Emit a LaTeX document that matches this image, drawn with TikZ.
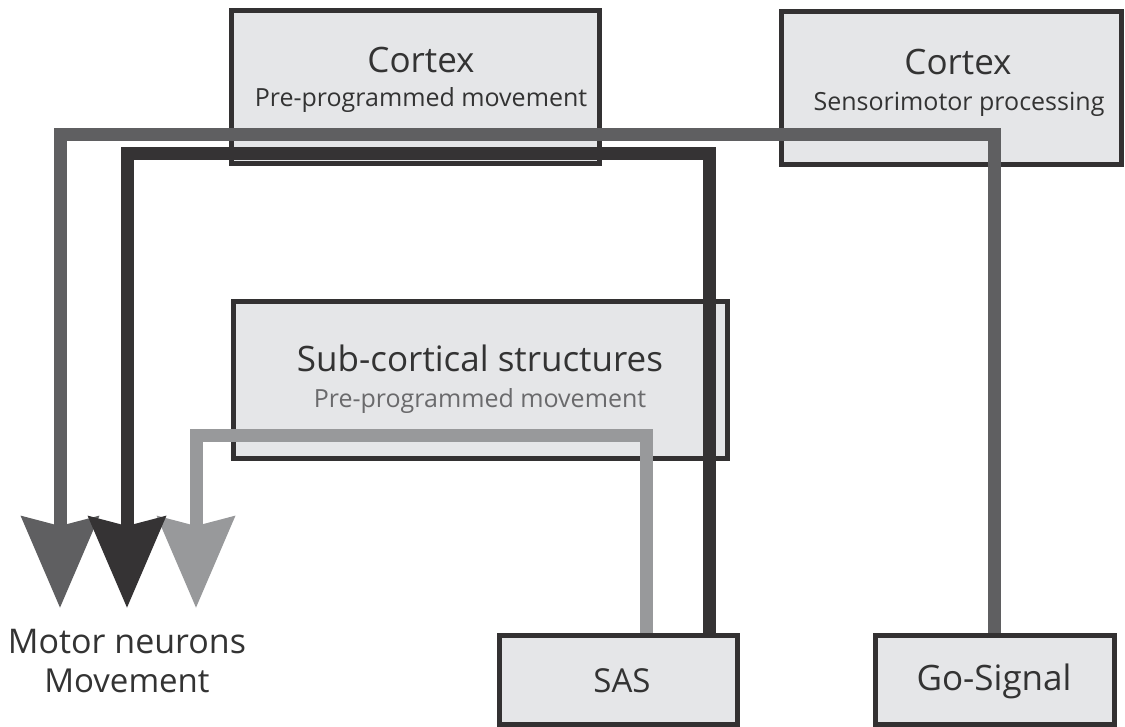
\documentclass[tikz,border=0pt]{standalone}
\usepackage{fontspec}
\setmainfont{Open Sans}
\usetikzlibrary{arrows.meta,calc}
\definecolor{boxfill}{HTML}{E5E6E8}
\definecolor{boxline}{HTML}{333132}
\definecolor{txt}{HTML}{333333}
\definecolor{subtxt}{HTML}{6A6A6C}
\definecolor{pathmid}{HTML}{5F5F61}
\definecolor{pathdark}{HTML}{353334}
\definecolor{pathlight}{HTML}{98999B}
\tikzset{
  region/.style={draw=boxline, fill=boxfill, line width=5pt, inner sep=0pt},
  title/.style={text=txt, anchor=base, font=\fontsize{35}{38}\selectfont},
  subtitle/.style={text=txt, anchor=base, font=\fontsize{25}{28}\selectfont},
  endlabel/.style={text=txt, anchor=base, font=\fontsize{33}{36}\selectfont},
  pathway/.style={line width=13pt, -{Stealth[length=91pt,width=76pt,inset=9pt]}},
}
\begin{document}
\begin{tikzpicture}[x=1pt,y=-1pt]
\useasboundingbox (0,0) rectangle (1125,727);

% regions
\node[region, minimum width=368pt, minimum height=153pt] (ctxpre) at (415,87.5) {};
\node[region, minimum width=340pt, minimum height=153pt] (ctxsens) at (951,88.5) {};
\node[region, minimum width=494pt, minimum height=156pt] (subc) at (480,380) {};
\node[region, minimum width=238pt, minimum height=89pt] (sas) at (618,679.5) {};
\node[region, minimum width=239pt, minimum height=89pt] (go) at (994.5,679.5) {};

% region labels
\node[title] (ctxpreT) at (421,73) {Cortex};
\node[subtitle] (ctxpreS) at (421,107) {Pre-programmed movement};
\node[title] (ctxsensT) at (958,75) {Cortex};
\node[subtitle] (ctxsensS) at (959,111) {Sensorimotor processing};
\node[title] (subcT) at (480,372) {Sub-cortical structures};
\node[subtitle, text=subtxt] (subcS) at (480,407) {Pre-programmed movement};
\node[endlabel] (sasT) at (622,692) {SAS};
\node[endlabel, font=\fontsize{35}{38}\selectfont] (goT) at (994,690) {Go-Signal};
\node[endlabel, font=\fontsize{34}{37}\selectfont] (motA) at (127,653) {Motor neurons};
\node[endlabel] (motB) at (127,692) {Movement};

% arrow tips at the motor neurons
\coordinate (tipmid) at (60,608);
\coordinate (tipdark) at (127,608);
\coordinate (tiplight) at (196,608);

% pathways
\draw[pathway, draw=pathmid]
  (go.north) -- (go.north |- 0,135) -- (tipmid |- 0,135) -- (tipmid);
\draw[pathway, draw=pathlight]
  ($(sas.north)+(28.5,0)$) -- ($(sas.north |- 0,435)+(28.5,0)$) -- (tiplight |- 0,435) -- (tiplight);
\draw[pathway, draw=pathdark]
  ($(sas.north)+(91.5,0)$) -- ($(sas.north |- 0,153.5)+(91.5,0)$) -- (tipdark |- 0,153.5) -- (tipdark);
\end{tikzpicture}
\end{document}
